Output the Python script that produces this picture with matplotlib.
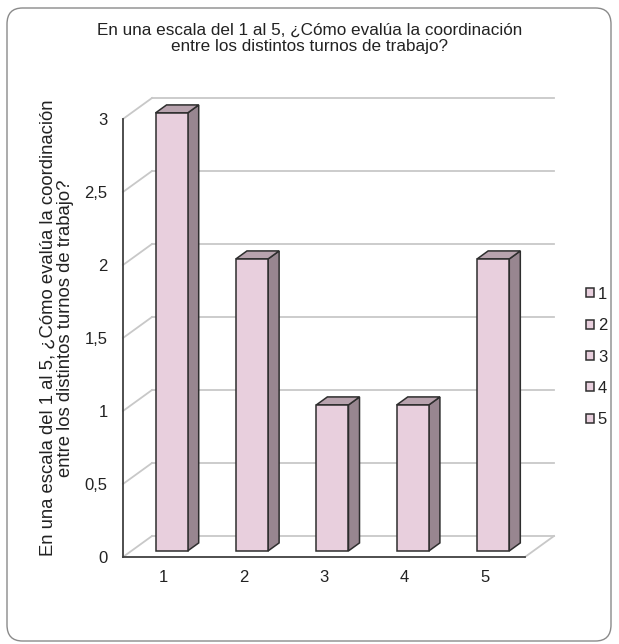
import matplotlib
matplotlib.use("Agg")
import matplotlib.pyplot as plt
from matplotlib.patches import FancyBboxPatch, Polygon

plt.rcParams['font.family'] = ['Liberation Sans', 'DejaVu Sans']

categories = ['1', '2', '3', '4', '5']
values = [3, 2, 1, 1, 2]
yticks = [0, 0.5, 1, 1.5, 2, 2.5, 3]
ytick_labels = ['0', '0,5', '1', '1,5', '2', '2,5', '3']

title = 'En una escala del 1 al 5, ¿Cómo evalúa la coordinación\nentre los distintos turnos de trabajo?'
ylabel = 'En una escala del 1 al 5, ¿Cómo evalúa la coordinación\nentre los distintos turnos de trabajo?'

# colours of the bar faces
c_front = '#e8cfdd'
c_side = '#988690'
c_top = '#b8a3ae'
c_edge = '#2e2e2e'
c_grid = '#c8c8c8'
c_text = '#222222'

W, H = 619, 644
fig = plt.figure(figsize=(W / 100, H / 100), dpi=100)
ax = fig.add_axes([123 / W, 87 / H, 402 / W, 438 / H])
ax.set_xlim(0.5, 5.5)
ax.set_ylim(0, 3)

# fake depth: how far the back wall is shifted (data units)
DX = 29 / 80.4
DY = 21 / 146.0
f1, f2 = 0.29, 0.67   # front/back of the bars along depth
bw = 0.4

# walls: side wall slants + back wall lines
for t in yticks:
    ax.plot([0.5, 0.5 + DX], [t, t + DY], color=c_grid, lw=1.3, clip_on=False, zorder=1)
    ax.plot([0.5 + DX, 5.5 + DX], [t + DY, t + DY], color=c_grid, lw=1.3, clip_on=False, zorder=1)
ax.plot([5.5, 5.5 + DX], [0, DY], color=c_grid, lw=1.3, clip_on=False, zorder=1)

for i, (cat, v) in enumerate(zip(categories, values)):
    x = i + 1 - bw / 2
    x0, y0 = x + f1 * DX, f1 * DY
    ox, oy = (f2 - f1) * DX, (f2 - f1) * DY
    front = [(x0, y0), (x0 + bw, y0), (x0 + bw, y0 + v), (x0, y0 + v)]
    side = [(x0 + bw, y0), (x0 + bw + ox, y0 + oy), (x0 + bw + ox, y0 + v + oy), (x0 + bw, y0 + v)]
    top = [(x0, y0 + v), (x0 + bw, y0 + v), (x0 + bw + ox, y0 + v + oy), (x0 + ox, y0 + v + oy)]
    ax.add_patch(Polygon(side, closed=True, fc=c_side, ec=c_edge, lw=1.1, clip_on=False, zorder=3))
    ax.add_patch(Polygon(top, closed=True, fc=c_top, ec=c_edge, lw=1.1, clip_on=False, zorder=3))
    ax.add_patch(Polygon(front, closed=True, fc=c_front, ec=c_edge, lw=1.1, clip_on=False,
                         zorder=4, label=cat))

for s in ['top', 'right']:
    ax.spines[s].set_visible(False)
for s in ['left', 'bottom']:
    ax.spines[s].set_color('#404040')
    ax.spines[s].set_linewidth(1.3)
    ax.spines[s].set_zorder(5)

ax.set_xticks(range(1, 6))
ax.set_xticklabels(categories)
ax.set_yticks(yticks)
ax.set_yticklabels(ytick_labels)
ax.tick_params(axis='x', length=0, pad=9.5, labelsize=12, colors=c_text)
ax.tick_params(axis='y', length=0, pad=11, labelsize=12, colors=c_text)
ax.set_ylabel(ylabel, fontsize=13.3, color=c_text, linespacing=1.0)
ax.yaxis.label.set_va('center')
ax.yaxis.set_label_coords(-0.165, 0.523)

fig.text(0.5, 1 - 38.5 / H, title, ha='center', va='center', fontsize=12.3,
         color=c_text, linespacing=1.12)

ax.legend(loc='center left', bbox_to_anchor=(586 / W, 1 - 357 / H),
          bbox_transform=fig.transFigure, frameon=False, borderpad=0,
          borderaxespad=0, handlelength=0.46, handleheight=0.46,
          handletextpad=0.25, labelspacing=0.98, fontsize=12,
          labelcolor=c_text)

frame = FancyBboxPatch((7 / W, 3 / H), 604 / W, 633 / H,
                       boxstyle='round,pad=0,rounding_size=0.025',
                       transform=fig.transFigure, fc='none', ec='#8a8a8a', lw=1.0)
fig.patches.append(frame)

fig.savefig('out.png', dpi=100)
